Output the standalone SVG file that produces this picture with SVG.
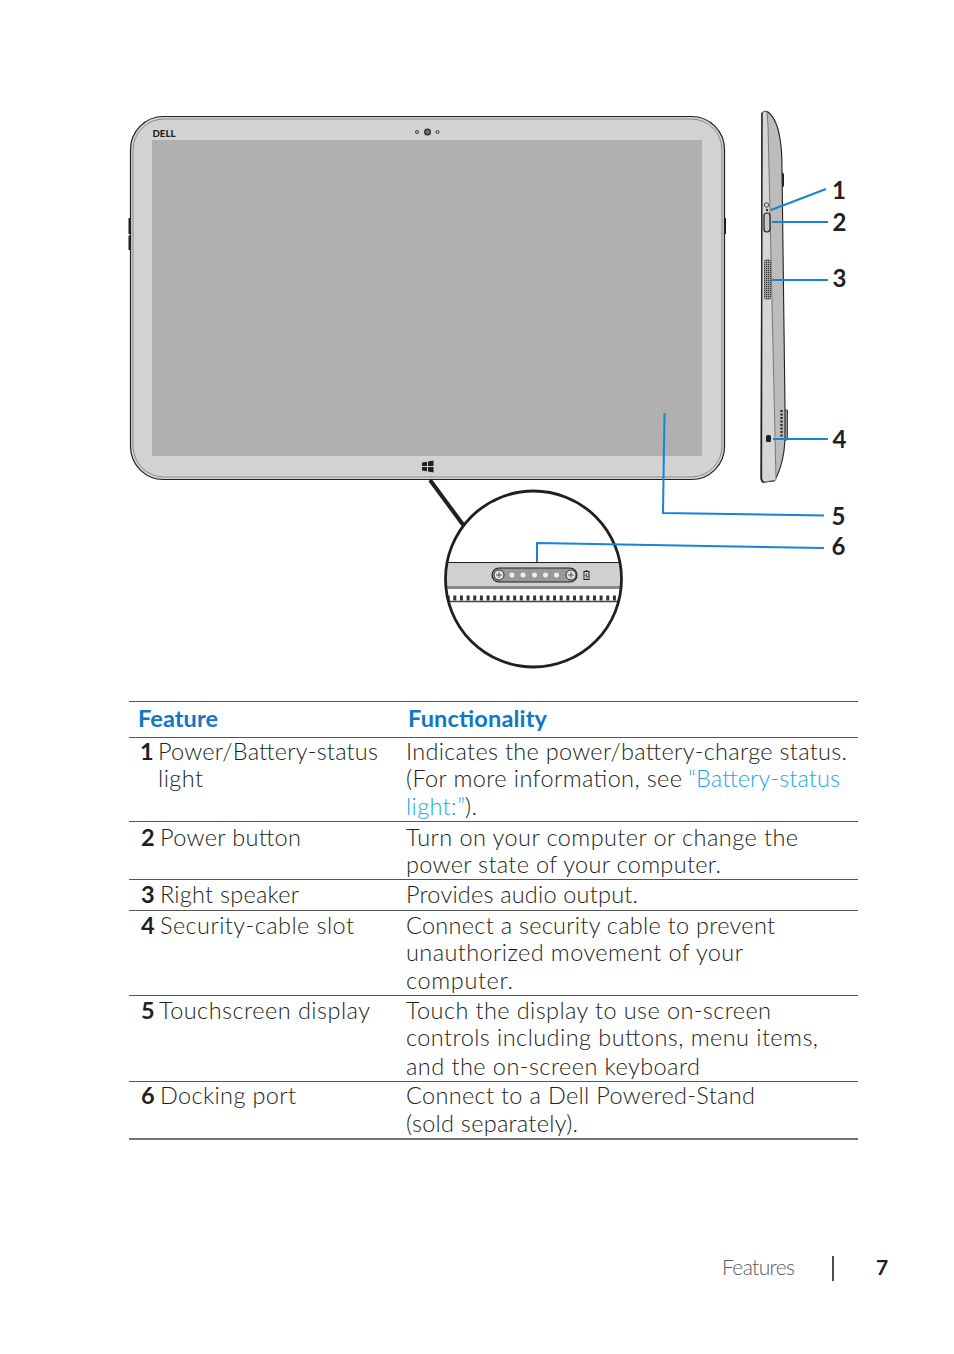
<svg xmlns="http://www.w3.org/2000/svg" width="954" height="1354" viewBox="0 0 954 1354">
<style>
text{font-family:Lato,"Open Sans","Liberation Sans",sans-serif;fill:#231f20}
.t{font-size:23.500px;font-weight:300}
.n{font-size:23.500px;font-weight:700}
.h{font-size:23.500px;font-weight:700;fill:#0d77c8}
.c{font-size:24px;font-weight:700}
.rule{stroke:#555;stroke-width:1;fill:none}
.lead{stroke:#1585d8;stroke-width:2;fill:none}
</style>
<defs>
<pattern id="grill" width="2" height="2" patternUnits="userSpaceOnUse"><rect width="2" height="2" fill="#aaa"/><rect width="1.200" height="1.200" fill="#333"/></pattern>
</defs>
<rect width="954" height="1354" fill="#fff"/>
<g id="tablet-front">
<path d="M128.500 218h2v16h-2zM128.500 235.500h2v14.500h-2zM724 218h2v16h-2z" fill="#231f20"/>
<rect x="130.500" y="116.500" width="594" height="363" rx="33" fill="#d2d2d2" stroke="#231f20" stroke-width="1.200"/>
<rect x="133" y="119" width="589" height="358" rx="31" fill="none" stroke="#8a8a8a" stroke-width="1"/>
<rect x="152" y="140" width="550" height="316" fill="#b0b0b0"/>
<text x="152.500" y="137" style="font-size:9.500px;font-weight:900" textLength="23" lengthAdjust="spacingAndGlyphs">DELL</text>
<circle cx="417" cy="132" r="1.500" fill="none" stroke="#333"/>
<circle cx="427.500" cy="132" r="2.800" fill="#777" stroke="#333" stroke-width="1.400"/>
<circle cx="437.500" cy="132" r="1.500" fill="none" stroke="#333"/>
<path d="M422 462.500l5-.8v4.300h-5zM428 461.500l5.500-.9v5.400h-5.500zM422 467h5v4.300l-5-.8zM428 467h5.500v5.400l-5.500-.9z" fill="#231f20"/>
</g>
<g id="tablet-side">
<path d="M781 410h6.500v30h-6.500z" fill="#9a9a9a" stroke="#231f20" stroke-width=".8"/>
<path d="M782 172l2 2v12l-2 2z" fill="#231f20"/>
<path d="M762 113q3-3 6-1q9 7 12 27q2 10 2 30l3 240v30l-1 12q-3 20-10 30l-9 1q-4 1-4-4z" fill="#bcbcbc" stroke="#231f20" stroke-width="1.100"/>
<path d="M762 113q3-3 5-1l1 14l8 354l-11 2q-4 1-4-4z" fill="#d6d6d6" stroke="#555" stroke-width=".7"/>
<path d="M762 113L761.500 478q0 4 3 4" fill="none" stroke="#231f20" stroke-width="1.300"/>
<path d="M781.500 410v30" stroke="#231f20" stroke-width="2.200" stroke-dasharray="2 1.500"/>
<circle cx="766.500" cy="205" r="2.200" fill="none" stroke="#444"/>
<circle cx="767" cy="210" r="1.200" fill="#333"/>
<rect x="764" y="213" width="6" height="19" rx="3" fill="#c8c8c8" stroke="#231f20" stroke-width="1.200"/>
<rect x="764" y="259" width="7" height="41" rx="3" fill="url(#grill)"/>
<rect x="766" y="435" width="5" height="7" rx="1.500" fill="#231f20"/>
</g>
<g id="dock-detail">
<path d="M430 480l34 46" stroke="#231f20" stroke-width="4" fill="none"/>
<circle cx="533.500" cy="579" r="88" fill="#fff"/>
<clipPath id="cc"><circle cx="533.500" cy="579" r="88"/></clipPath>
<g clip-path="url(#cc)">
<rect x="440" y="563" width="190" height="24" fill="#d0d0d0"/>
<path d="M440 562.500h190" stroke="#231f20" stroke-width="1.200"/>
<rect x="440" y="586" width="190" height="3" fill="#8a8a8a"/>
<rect x="440" y="589" width="190" height="12" fill="#fff"/>
<path d="M440 598h190" stroke="#333" stroke-width="5" stroke-dasharray="3 3.650"/>
<path d="M440 601.500h190" stroke="#444" stroke-width="1.500"/>
</g>
<rect x="492" y="568" width="85" height="14" rx="7" fill="#999" stroke="#231f20" stroke-width="1.200"/>
<circle cx="499" cy="575" r="5" fill="#e2e2e2" stroke="#333"/>
<circle cx="571" cy="575" r="5" fill="#e2e2e2" stroke="#333"/>
<path d="M496 575h6M499 572v6M568 575h6M571 572v6" stroke="#333" stroke-width=".8"/>
<g fill="#eee"><circle cx="512" cy="575" r="2.500"/><circle cx="523" cy="575" r="2.500"/><circle cx="534.500" cy="575" r="2.500"/><circle cx="545.500" cy="575" r="2.500"/><circle cx="556.500" cy="575" r="2.500"/></g>
<rect x="584" y="571.500" width="5" height="8" fill="#ddd" stroke="#231f20"/>
<path d="M585.500 570.500h2" stroke="#555"/>
<path d="M587 573l-1.500 3h2l-1 2.500" stroke="#231f20" stroke-width=".8" fill="none"/>
<circle cx="533.500" cy="579" r="88" fill="none" stroke="#231f20" stroke-width="2.800"/>
</g>
<g id="connectors">
<path class="lead" d="M771 210L826 189M772 222H828M772 280H828M773 439H828"/>
<path class="lead" d="M664.500 413L663 513L824 515.500M537 562V543L824 548"/>
</g>
<g id="callouts">
<text class="c" x="832" y="199">1</text>
<text class="c" x="832.500" y="231">2</text>
<text class="c" x="832.500" y="287">3</text>
<text class="c" x="832.500" y="448">4</text>
<text class="c" x="831.500" y="525">5</text>
<text class="c" x="831.500" y="555">6</text>
</g>
<g id="table">
<path class="rule" d="M129 701.500H858M129 737.500H858M129 821.500H858M129 879.500H858M129 910.500H858M129 995.500H858M129 1081.500H858"/>
<path d="M129 1139H858" stroke="#444" stroke-width="1.600"/>
<text class="h" x="138" y="727" textLength="80">Feature</text>
<text class="h" x="408" y="727" textLength="139">Functionality</text>
<text class="n" x="140" y="760">1</text>
<text class="t" x="158" y="760" textLength="220">Power/Battery-status</text>
<text class="t" x="158" y="787" textLength="45">light</text>
<text class="t" x="406" y="760" textLength="441">Indicates the power/battery-charge status.</text>
<text class="t" x="406" y="787" textLength="276">(For more information, see</text>
<text class="t" x="688" y="787" textLength="152" style="fill:#21a7e8">“Battery-status</text>
<text class="t" x="406" y="815" textLength="59" style="fill:#21a7e8">light:”</text>
<text class="t" x="465" y="815" textLength="12">).</text>
<text class="n" x="141" y="846">2</text>
<text class="t" x="160" y="846" textLength="141">Power button</text>
<text class="t" x="406" y="846" textLength="392">Turn on your computer or change the</text>
<text class="t" x="406" y="873" textLength="315">power state of your computer.</text>
<text class="n" x="141" y="903">3</text>
<text class="t" x="160" y="903" textLength="139">Right speaker</text>
<text class="t" x="406" y="903" textLength="232">Provides audio output.</text>
<text class="n" x="141" y="934">4</text>
<text class="t" x="160" y="934" textLength="194">Security-cable slot</text>
<text class="t" x="406" y="934" textLength="369">Connect a security cable to prevent</text>
<text class="t" x="406" y="961" textLength="337">unauthorized movement of your</text>
<text class="t" x="406" y="989" textLength="107">computer.</text>
<text class="n" x="141" y="1019">5</text>
<text class="t" x="159" y="1019" textLength="211">Touchscreen display</text>
<text class="t" x="406" y="1019" textLength="365">Touch the display to use on-screen</text>
<text class="t" x="406" y="1046" textLength="412">controls including buttons, menu items,</text>
<text class="t" x="406" y="1075" textLength="294">and the on-screen keyboard</text>
<text class="n" x="141" y="1104">6</text>
<text class="t" x="160" y="1104" textLength="136">Docking port</text>
<text class="t" x="406" y="1104" textLength="349">Connect to a Dell Powered-Stand</text>
<text class="t" x="406" y="1132" textLength="172">(sold separately).</text>
</g>
<g id="footer">
<text x="722" y="1275" textLength="73" style="font-size:21px;font-weight:300;fill:#58595b">Features</text>
<path d="M833 1256V1281" stroke="#231f20" stroke-width="1.600"/>
<text x="876" y="1275" style="font-size:21px;font-weight:700">7</text>
</g>
</svg>
